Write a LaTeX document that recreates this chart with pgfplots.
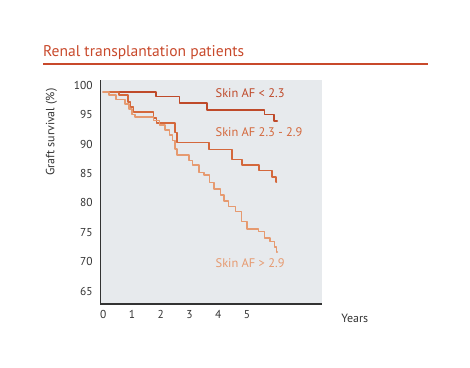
\documentclass[border=0pt]{standalone}
\usepackage{pgfplots}
\pgfplotsset{compat=1.18}
\usepackage{fontspec}
\setmainfont{PT Sans}
\definecolor{titlered}{HTML}{C8492B}
\definecolor{cA}{HTML}{BF4A2A}
\definecolor{cB}{HTML}{D4683C}
\definecolor{cC}{HTML}{E69A70}
\definecolor{bg}{HTML}{E7EAED}
\definecolor{axc}{HTML}{333333}
\begin{document}
\begin{tikzpicture}[x=1bp,y=1bp]
\useasboundingbox (0,0) rectangle (470,367);
\node[anchor=base west, text=titlered, font=\fontsize{15.6}{18}\selectfont, inner sep=0] at (43,311) {Renal transplantation patients};
\draw[titlered, line width=2bp] (43,303) -- (428,303);
\begin{axis}[
  at={(103.3bp,63bp)}, anchor=origin,
  scale only axis, width=221.7bp, height=224bp,
  xmin=-0.11, xmax=7.6, ymin=62.8, ymax=100.9,
  axis x line*=bottom, axis y line*=left,
  axis line style={axc, line width=1.2bp, -},
  axis background/.style={fill=bg},
  xtick={0,1,2,3,4,5}, ytick={65,70,75,80,85,90,95,100},
  major tick length=0pt,
  /pgf/number format/assume math mode=true,
  tick label style={font=\fontsize{11.5}{13}\selectfont, text=black!80},
  xticklabel style={yshift=-3bp},
  yticklabel style={xshift=-4bp},
  clip=false,
  every axis plot/.append style={line width=1.6bp, line join=round, line cap=round, mark=none, const plot mark left},
]
\addplot[cA] coordinates {
(0,98.9) (1.84,98.1) (2.65,96.95) (3.6,95.8) (5.6,95.05) (5.93,93.9) (6.05,93.9)};
\addplot[cB] coordinates {
(0,98.9) (0.55,98.3) (0.85,97.2) (0.95,96.3) (1.05,95.5) (1.75,94.4) (1.85,93.6) (2.5,92.0) (2.56,90.3) (3.67,89.1) (4.48,87.4) (4.83,86.4) (5.41,85.5) (5.87,84.4) (6.0,83.6) (6.02,83.6)};
\addplot[cC] coordinates {
(0,98.9) (0.2,98.3) (0.45,97.6) (0.75,96.8) (0.9,96.0) (1.0,95.0) (1.1,94.65) (1.75,94.0) (1.95,93.2) (2.15,92.4) (2.3,91.5) (2.4,90.6) (2.5,89.2) (2.56,88.1) (2.97,87.2) (3.1,86.4) (3.33,85.2) (3.5,84.7) (3.7,83.5) (3.85,82.4) (4.07,81.3) (4.2,80.3) (4.35,79.4) (4.6,78.5) (4.8,76.8) (5.0,75.6) (5.4,75.1) (5.6,74.0) (5.8,73.4) (5.95,72.5) (6.02,71.6) (6.05,71.6)};
\node[anchor=west, text=cA, font=\fontsize{12.5}{15}\selectfont, inner sep=0] at (axis cs:3.9,98.6) {Skin AF < 2.3};
\node[anchor=west, text=cB, font=\fontsize{12.5}{15}\selectfont, inner sep=0] at (axis cs:3.9,92.06) {Skin AF 2.3 - 2.9};
\node[anchor=west, text=cC, font=\fontsize{12.5}{15}\selectfont, inner sep=0] at (axis cs:3.9,69.8) {Skin AF > 2.9};
\node[rotate=90, text=black!80, font=\fontsize{12}{14}\selectfont] at (axis description cs:-0.22,0.768) {Graft survival (\%)};
\node[text=black!80, font=\fontsize{12}{14}\selectfont] at (axis description cs:1.149,-0.0625) {Years};
\end{axis}
\end{tikzpicture}
\end{document}
